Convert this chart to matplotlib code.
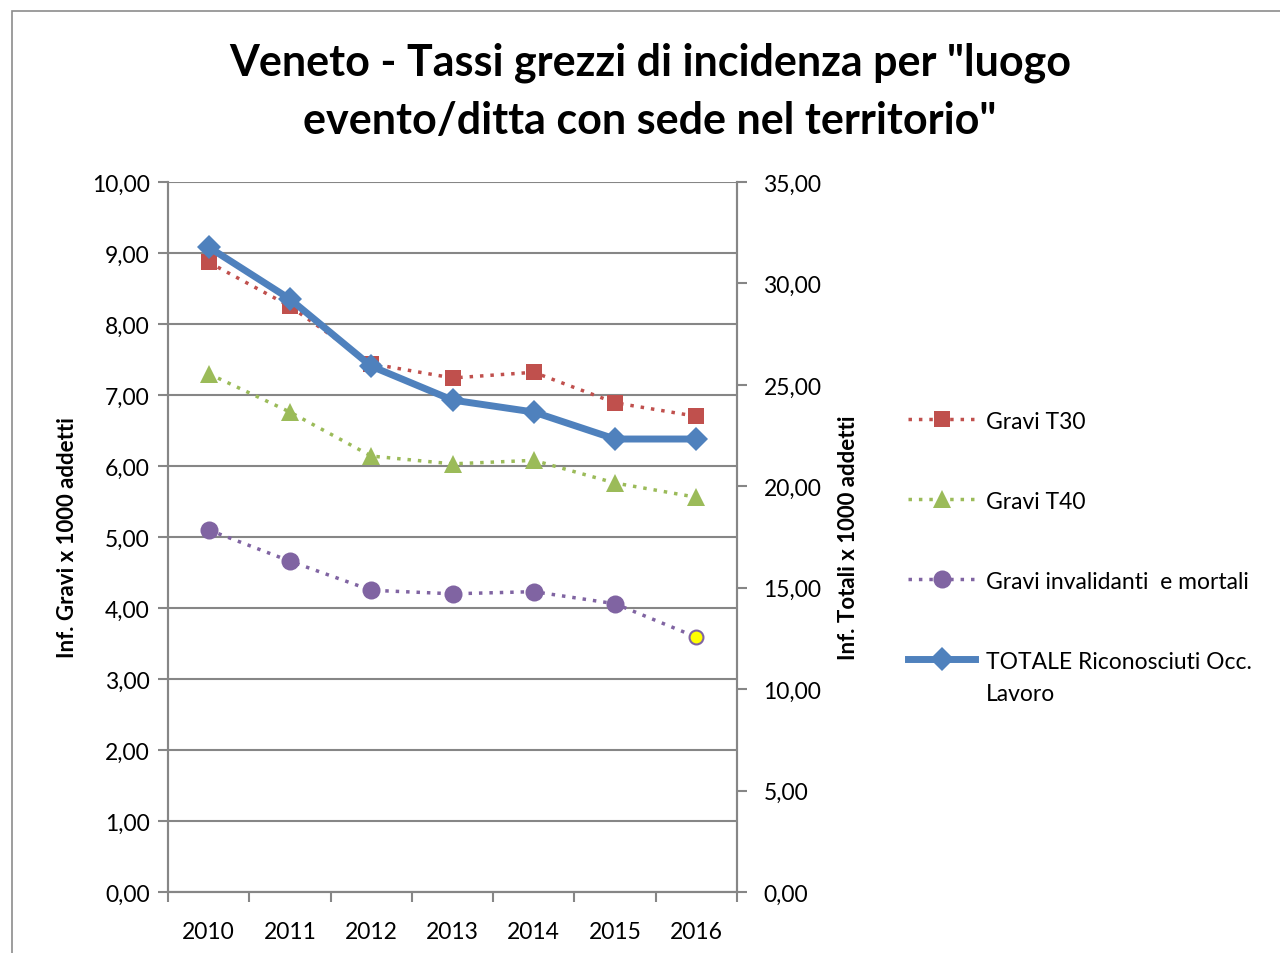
import numpy as np
import matplotlib.pyplot as plt
from matplotlib.patches import Rectangle
from matplotlib.lines import Line2D

plt.rcParams['font.family'] = ['Lato', 'DejaVu Sans']

# Data
years = ['2010', '2011', '2012', '2013', '2014', '2015', '2016']
gravi_t30 = [8.87, 8.25, 7.44, 7.24, 7.32, 6.89, 6.70]
gravi_t40 = [7.30, 6.76, 6.14, 6.03, 6.08, 5.76, 5.56]
gravi_inv = [5.10, 4.66, 4.25, 4.20, 4.23, 4.06, 3.59]
totale = [31.79, 29.23, 25.92, 24.25, 23.66, 22.33, 22.33]

red = '#C0504D'
green = '#9BBB59'
purple = '#8064A2'
blue = '#4F81BD'
axis_gray = '#868686'

fig = plt.figure(figsize=(12.8, 9.54), dpi=100)
fig.patches.append(Rectangle((12 / 1280, -0.01), 1.1, 1 - 12 / 954 + 0.01,
                             transform=fig.transFigure, fill=False,
                             edgecolor='#8C8C8C', linewidth=1.2))

ax = fig.add_axes([168 / 1280, 1 - 893 / 954, (737 - 168) / 1280, (893 - 183) / 954])
ax2 = ax.twinx()

x = np.arange(len(years))

dotted = (0, (1, 2))
styles = [
    dict(linestyle=dotted, linewidth=2.5, color=red, marker='s', markersize=12, markeredgewidth=0),
    dict(linestyle=dotted, linewidth=2.5, color=green, marker='^', markersize=13, markeredgewidth=0),
    dict(linestyle=dotted, linewidth=2.5, color=purple, marker='o', markersize=13, markeredgewidth=0),
    dict(linestyle='-', linewidth=5, color=blue, marker='D', markersize=12, markeredgewidth=0),
]

ax.plot(x, gravi_t30, **styles[0])
ax.plot(x, gravi_t40, **styles[1])
ax.plot(x[:-1], gravi_inv[:-1], **dict(styles[2], linestyle='none'))
ax.plot(x, gravi_inv, linestyle=dotted, linewidth=2.5, color=purple)
ax.plot(x[-1:], gravi_inv[-1:], linestyle='none', marker='o', markersize=10,
        markerfacecolor='#FFFF00', markeredgecolor=purple, markeredgewidth=1.5)
ax2.plot(x, totale, **styles[3])

ax.set_xlim(-0.5, len(years) - 0.5)
ax.set_ylim(0, 10)
ax2.set_ylim(0, 35)

ax.set_yticks(np.arange(0, 10.01, 1))
ax.set_yticklabels([f'{v:.2f}'.replace('.', ',') for v in np.arange(0, 10.01, 1)], fontsize=16.5)
ax2.set_yticks(np.arange(0, 35.01, 5))
ax2.set_yticklabels([f'{v:.2f}'.replace('.', ',') for v in np.arange(0, 35.01, 5)], fontsize=16.5)

ax.set_xticks(x)
ax.set_xticklabels(years, fontsize=16.5)
ax.set_xticks(np.arange(-0.5, len(years), 1), minor=True)
ax.tick_params(axis='x', which='major', length=0, pad=21)
ax.tick_params(axis='x', which='minor', length=7, color=axis_gray, width=1.5, direction='out')
ax.tick_params(axis='y', length=7, color=axis_gray, width=1.5, direction='out', pad=6)
ax2.tick_params(axis='y', length=7, color=axis_gray, width=1.5, direction='out', pad=12)

ax.grid(axis='y', color=axis_gray, linewidth=1.5)
ax.set_axisbelow(True)
for a in (ax, ax2):
    a.spines['top'].set_visible(False)
    for s in ('left', 'right', 'bottom'):
        a.spines[s].set_color(axis_gray)
        a.spines[s].set_linewidth(1.5)

ax.set_ylabel('Inf. Gravi x 1000 addetti', fontsize=16, fontweight='bold', labelpad=10)
ax2.set_ylabel('Inf. Totali x 1000 addetti', fontsize=16, fontweight='bold', labelpad=12)

fig.text(650 / 1280, 1 - 92 / 954,
         'Veneto - Tassi grezzi di incidenza per "luogo\nevento/ditta con sede nel territorio"',
         ha='center', va='center', fontsize=31, fontweight='bold', linespacing=1.55)

# Legend drawn by hand so the two-line label keeps its handle on the first line
labels = ['Gravi T30', 'Gravi T40', 'Gravi invalidanti  e mortali', 'TOTALE Riconosciuti Occ.\nLavoro']
leg_y = [420, 500, 580, 660]
for st, lab, yy in zip(styles, labels, leg_y):
    yf = 1 - yy / 954
    fig.add_artist(Line2D([908 / 1280, 975 / 1280], [yf, yf], transform=fig.transFigure,
                          linestyle=st['linestyle'], linewidth=st['linewidth'], color=st['color']))
    fig.add_artist(Line2D([942 / 1280], [yf], transform=fig.transFigure, linestyle='none',
                          marker=st['marker'], markersize=st['markersize'], color=st['color'],
                          markeredgewidth=0))
    fig.text(986 / 1280, 1 - (yy - 8) / 954, lab, fontsize=16.5, ha='left', va='top',
             linespacing=1.65)

fig.savefig('out.png', dpi=100)
